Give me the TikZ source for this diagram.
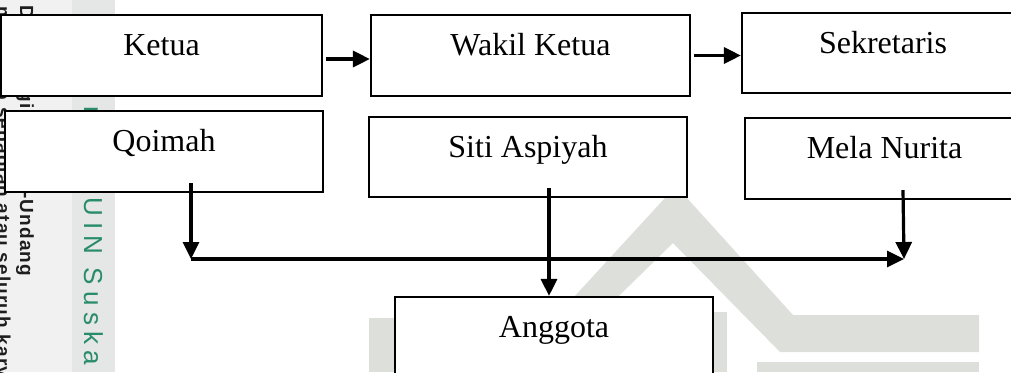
\documentclass[tikz,border=0pt]{standalone}
\usepackage{fontspec}
\setmainfont{Liberation Serif}
\newfontfamily\wmsans[LetterSpace=24]{Liberation Sans}
\newfontfamily\wmsansb[LetterSpace=6]{Liberation Sans}
\usetikzlibrary{arrows.meta,calc}
\definecolor{wmgreen}{RGB}{40,140,105}
\definecolor{wmdark}{RGB}{30,30,30}
\definecolor{wmgrey}{RGB}{221,223,219}
\definecolor{bandA}{RGB}{241,241,241}
\definecolor{bandB}{RGB}{229,230,230}
\begin{document}
\begin{tikzpicture}[x=1pt,y=-1pt,
  box/.style={draw=black, line width=2.2pt, fill=white, rectangle, inner sep=0pt,
    text height=12pt, text depth=12pt, font=\fontsize{32}{36}\selectfont},
  arr/.style={line width=3.2pt, -{Triangle[length=17pt,width=16pt]}},
  wm/.style={rotate=-90, inner sep=0pt},
  wmg/.style={wm, text=wmgreen, font=\wmsans\fontsize{26}{30}\selectfont},
  wmb/.style={wm, text=wmdark, font=\wmsansb\bfseries\fontsize{19}{22}\selectfont}]
\useasboundingbox (0,0) rectangle (1011,372);
\clip (0,0) rectangle (1011,372);
% watermark background
\fill[bandA] (0,0) rectangle (72,372);
\fill[bandB] (72,0) rectangle (115,372);
\fill[wmgrey] (505,372) -- (676,186) -- (793,315) -- (979,315) -- (979,352)
   -- (780,352) -- (673,243) -- (541,372) -- cycle;
\fill[wmgrey] (369,318) rectangle (395,372);
\fill[wmgrey] (713,312) rectangle (727,372);
\fill[wmgrey] (757,362) rectangle (979,372);
% watermark text
\node[wmg, anchor=base west] (wmu) at (84,197) {UIN Suska Riau};
\node[wmg, anchor=base east] (wmh) at (84,184) {© Hak cipta milik};
\node[wmb, anchor=base west] (wmc) at (20,192) {-Undang};
\node[wmb, anchor=base east] (wmd) at (20,192) {Hak Cipta Dilindungi Undang};
\node[wmb, anchor=base east] (wme) at (-3,100) {1. Dilarang mengutip};
\node[wmb, anchor=base west] (wmf) at (-3,107) {sebagian atau seluruh karya tulis ini tanpa mencantumkan dan menyebutkan sumber:};
% boxes
\node[box, minimum width=321pt, minimum height=81pt] (ketua) at (161.5,55.5) {Ketua};
\node[box, minimum width=319pt, minimum height=81pt] (wakil) at (530.5,55.5) {Wakil Ketua};
\node[box, minimum width=282pt, minimum height=80pt] (sek) at (883,53) {Sekretaris};
\node[box, minimum width=318pt, minimum height=81pt] (qoimah) at (164,151.5) {Qoimah};
\node[box, minimum width=318pt, minimum height=80pt] (siti) at (528,157) {Siti Aspiyah};
\node[box, minimum width=279pt, minimum height=81pt] (mela) at (884.5,158.5) {Mela Nurita};
\node[box, minimum width=318pt, minimum height=81pt] (anggota) at (554,337.5) {Anggota};
% connectors
\coordinate (busL) at (191,259);
\coordinate (busR) at (904,259);
\coordinate (qs) at ([yshift=10pt]qoimah.south);
\coordinate (ss) at ([yshift=10pt]siti.south);
\coordinate (ms) at ([xshift=18.5pt,yshift=10pt]mela.south);
\coordinate (an) at ([xshift=-5pt]anggota.north);
\draw[arr] ([xshift=3pt,yshift=-3.5pt]ketua.east) -- ([yshift=-3.5pt]wakil.west);
\draw[arr] ([xshift=3pt]wakil.east) -- (wakil.east -| sek.west);
\draw[arr] (busL |- qs) -- (busL);
\draw[arr] (busL) -- (busR);
\draw[arr] (ms) -- (busR);
\draw[arr] (an |- ss) -- (an);
\end{tikzpicture}
\end{document}
